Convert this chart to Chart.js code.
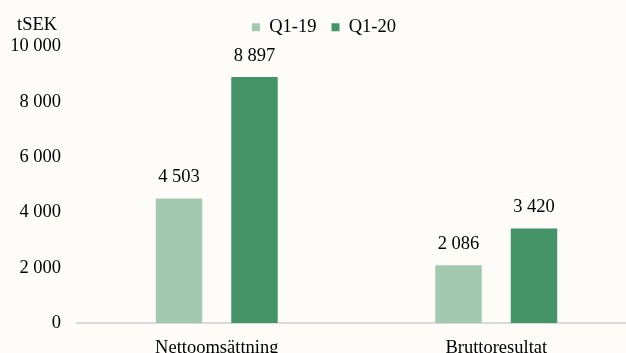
<!DOCTYPE html>
<html>
<head>
<meta charset="utf-8">
<script src="https://cdn.jsdelivr.net/npm/chart.js@4/dist/chart.umd.min.js"></script>
<style>
  html,body{margin:0;padding:0;background:#fdfcf9;overflow:hidden;}
  #wrap{width:636px;height:353px;}
</style>
</head>
<body>
<div id="wrap"><canvas id="chart" width="636" height="353"></canvas></div>
<script>
// data
const categories=['Nettoomsättning','Bruttoresultat'];
const seriesNames=['Q1-19','Q1-20'];
const q119=[4503,2086];
const q120=[8897,3420];
const yTicks=[0,2000,4000,6000,8000,10000];
const unitLabel='tSEK';

const fontFam='"Liberation Serif","Times New Roman",serif';
const fmt=v=>String(v).replace(/\B(?=(\d{3})+(?!\d))/g,' ');

// etiketter ovanför staplarna + enhet uppe till vänster
const extras={
  id:'extras',
  afterDatasetsDraw(chart){
    const ctx=chart.ctx;
    ctx.save();
    ctx.font='18.5px '+fontFam;
    ctx.fillStyle='#000';
    ctx.textAlign='center';
    ctx.textBaseline='middle';
    chart.data.datasets.forEach((ds,i)=>{
      chart.getDatasetMeta(i).data.forEach((bar,j)=>{
        ctx.fillText(fmt(ds.data[j]),bar.x,bar.y-21);
      });
    });
    ctx.textAlign='left';
    ctx.fillText(unitLabel,17,25);
    ctx.restore();
  }
};

new Chart(document.getElementById('chart'),{
  type:'bar',
  data:{
    labels:categories,
    datasets:[
      {label:seriesNames[0],data:q119,backgroundColor:'#a2c9b0'},
      {label:seriesNames[1],data:q120,backgroundColor:'#459467'}
    ]
  },
  options:{
    responsive:false,
    animation:false,
    datasets:{bar:{categoryPercentage:0.54,barPercentage:0.616}},
    layout:{padding:{top:3,left:12,right:0,bottom:0}},
    plugins:{
      legend:{
        display:true,
        position:'top',
        labels:{
          font:{family:fontFam,size:18.5},
          color:'#000',
          boxWidth:8,boxHeight:8,
          padding:15
        }
      },
      tooltip:{enabled:false}
    },
    scales:{
      x:{
        grid:{display:false,drawTicks:false},
        border:{display:true,color:'#d9d9d9',width:2},
        ticks:{font:{family:fontFam,size:18.5},color:'#000',padding:14},
        afterFit(s){s.height=30;}
      },
      y:{
        min:0,max:10000,
        grid:{display:false,drawTicks:false},
        border:{display:false},
        afterBuildTicks(s){s.ticks=yTicks.map(v=>({value:v}));},
        ticks:{font:{family:fontFam,size:18.5},color:'#000',padding:16,callback:v=>fmt(v)},
        afterFit(s){s.width=65;}
      }
    }
  },
  plugins:[extras]
});
</script>
</body>
</html>
